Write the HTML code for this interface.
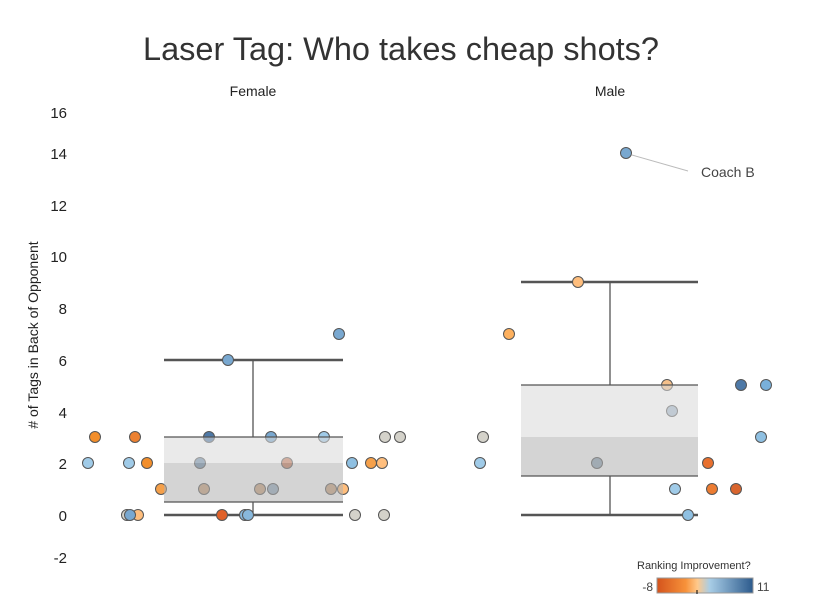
<!DOCTYPE html>
<html><head><style>body{margin:0;background:#fff}svg{display:block;font-family:"Liberation Sans",sans-serif}</style></head><body>
<svg width="825" height="616" viewBox="0 0 825 616">
<defs><linearGradient id="g" x1="0" x2="1"><stop offset="0" stop-color="#d4531c"/><stop offset="0.3" stop-color="#f7923a"/><stop offset="0.42" stop-color="#ffc88a"/><stop offset="0.55" stop-color="#a8cde6"/><stop offset="1" stop-color="#2c5a8c"/></linearGradient></defs>
<text x="401" y="60" font-size="32" fill="#333" text-anchor="middle" textLength="516" lengthAdjust="spacingAndGlyphs">Laser Tag: Who takes cheap shots?</text>
<text x="253" y="96" font-size="14" fill="#222" text-anchor="middle">Female</text>
<text x="610" y="96" font-size="14" fill="#222" text-anchor="middle">Male</text>
<text transform="translate(38,335) rotate(-90)" font-size="14" fill="#222" text-anchor="middle"># of Tags in Back of Opponent</text>
<g font-size="15" fill="#222" text-anchor="end">
<text x="67" y="118">16</text><text x="67" y="159">14</text><text x="67" y="211">12</text><text x="67" y="262">10</text><text x="67" y="314">8</text><text x="67" y="366">6</text><text x="67" y="418">4</text><text x="67" y="469">2</text><text x="67" y="521">0</text><text x="67" y="563">-2</text>
</g>
<g stroke="#555" stroke-width="2.5">
<line x1="164" x2="343" y1="360" y2="360"/><line x1="164" x2="343" y1="515" y2="515"/>
<line x1="521" x2="698" y1="282" y2="282"/><line x1="521" x2="698" y1="515" y2="515"/>
</g>
<g stroke="#555" stroke-width="1.3"><line x1="253" x2="253" y1="360" y2="437"/><line x1="253" x2="253" y1="502" y2="515"/><line x1="610" x2="610" y1="282" y2="385"/><line x1="610" x2="610" y1="476" y2="515"/></g>
<g stroke="#555" stroke-width="1">
<circle cx="95" cy="437" r="5.5" fill="#f28e2b"/><circle cx="135" cy="437" r="5.5" fill="#ec8131"/>
<circle cx="88" cy="463" r="5.5" fill="#a0cbe8"/><circle cx="129" cy="463" r="5.5" fill="#a0cbe8"/><circle cx="147" cy="463" r="5.5" fill="#f28e2b"/>
<circle cx="161" cy="489" r="5.5" fill="#f5a04a"/>
<circle cx="127" cy="515" r="5.5" fill="#d4d2ca"/><circle cx="138" cy="515" r="5.5" fill="#ffbe7d"/><circle cx="130" cy="515" r="5.5" fill="#79a8d0"/>
<circle cx="228" cy="360" r="5.5" fill="#79a8d0"/><circle cx="209" cy="437" r="5.5" fill="#4e79a7"/><circle cx="271" cy="437" r="5.5" fill="#79a8d0"/><circle cx="324" cy="437" r="5.5" fill="#a0cbe8"/>
<circle cx="200" cy="463" r="5.5" fill="#6f8fab"/><circle cx="287" cy="463" r="5.5" fill="#c97a5a"/>
<circle cx="204" cy="489" r="5.5" fill="#c9a07a"/><circle cx="260" cy="489" r="5.5" fill="#c9a07a"/><circle cx="273" cy="489" r="5.5" fill="#93a9bc"/><circle cx="331" cy="489" r="5.5" fill="#c9a07a"/><circle cx="343" cy="489" r="5.5" fill="#ffbe7d"/>
<circle cx="222" cy="515" r="5.5" fill="#e0622a"/><circle cx="245" cy="515" r="5.5" fill="#88b8dc"/><circle cx="248" cy="515" r="5.5" fill="#88b8dc"/>
<circle cx="339" cy="334" r="5.5" fill="#79a8d0"/><circle cx="352" cy="463" r="5.5" fill="#8fc0e2"/><circle cx="371" cy="463" r="5.5" fill="#f5a04a"/><circle cx="382" cy="463" r="5.5" fill="#ffbe7d"/>
<circle cx="385" cy="437" r="5.5" fill="#d4d2ca"/><circle cx="400" cy="437" r="5.5" fill="#d4d2ca"/><circle cx="355" cy="515" r="5.5" fill="#d4d2ca"/><circle cx="384" cy="515" r="5.5" fill="#d4d2ca"/>
<circle cx="578" cy="282" r="5.5" fill="#ffbe7d"/><circle cx="509" cy="334" r="5.5" fill="#fdb05e"/>
<circle cx="483" cy="437" r="5.5" fill="#d4d2ca"/><circle cx="480" cy="463" r="5.5" fill="#a0cbe8"/><circle cx="597" cy="463" r="5.5" fill="#8fa4b6"/>
<circle cx="667" cy="385" r="5.5" fill="#f5c08a"/><circle cx="672" cy="411" r="5.5" fill="#a4b8cc"/>
<circle cx="741" cy="385" r="5.5" fill="#4e79a7"/><circle cx="766" cy="385" r="5.5" fill="#79b0da"/><circle cx="761" cy="437" r="5.5" fill="#8fc0e2"/>
<circle cx="708" cy="463" r="5.5" fill="#e8702e"/><circle cx="675" cy="489" r="5.5" fill="#a0cbe8"/><circle cx="712" cy="489" r="5.5" fill="#ec7c32"/><circle cx="736" cy="489" r="5.5" fill="#d9652e"/>
<circle cx="688" cy="515" r="5.5" fill="#8fc0e2"/><circle cx="626" cy="153" r="5.5" fill="#79a8d0"/>
</g>
<g fill-opacity="0.55">
<rect x="164" y="437" width="179" height="26" fill="#d8d8d8"/><rect x="164" y="463" width="179" height="39" fill="#b0b0b0"/>
<rect x="521" y="385" width="177" height="52" fill="#d8d8d8"/><rect x="521" y="437" width="177" height="39" fill="#b0b0b0"/>
</g>
<g stroke="#555" stroke-width="1.3">
<line x1="164" x2="343" y1="437" y2="437"/><line x1="164" x2="343" y1="502" y2="502"/>
<line x1="521" x2="698" y1="385" y2="385"/><line x1="521" x2="698" y1="476" y2="476"/>
</g>
<line x1="632" y1="155" x2="688" y2="171" stroke="#bbb"/>
<text x="701" y="177" font-size="14" fill="#444">Coach B</text>
<text x="637" y="569" font-size="11" fill="#333">Ranking Improvement?</text>
<rect x="657" y="578" width="96" height="15" fill="url(#g)" stroke="#999"/>
<line x1="697" y1="590" x2="697" y2="594" stroke="#000"/>
<text x="653" y="591" font-size="12" fill="#444" text-anchor="end">-8</text>
<text x="757" y="591" font-size="12" fill="#444">11</text>
</svg>
</body></html>
